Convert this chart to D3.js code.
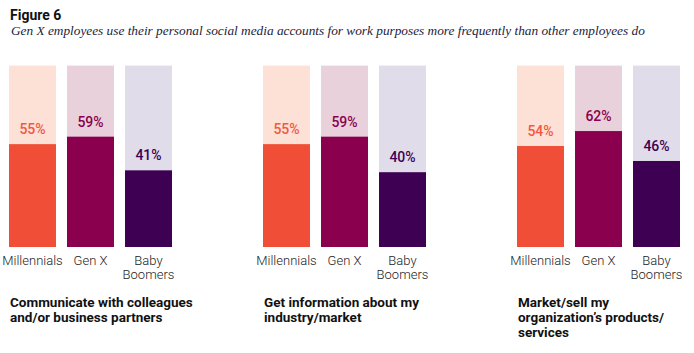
<!DOCTYPE html>
<html>
<head>
<meta charset="utf-8">
<script src="https://cdn.jsdelivr.net/npm/d3@7"></script>
<style>
  body { margin: 0; background: #fff; }
  svg { display: block; }
</style>
</head>
<body>
<svg id="chart" width="694" height="353"></svg>
<script>
// Data
const topics = [
  ['Communicate with colleagues', 'and/or business partners'],
  ['Get information about my', 'industry/market'],
  ['Market/sell my', 'organization\u2019s products/', 'services']
];
const generations = ['Millennials', 'Gen X', 'Baby Boomers'];
const genLabels = [['Millennials'], ['Gen X'], ['Baby', 'Boomers']];
const values = [
  [55, 59, 41],
  [55, 59, 40],
  [54, 62, 46]
];

const darkColors = ['#f04e37', '#8a004f', '#3e0052'];
const lightColors = ['#fde1d7', '#e8d1da', '#e1dcea'];
const labelColors = ['#f4583f', '#8a004f', '#3e0052'];

const svg = d3.select('#chart');

// Header
svg.append('text')
  .attr('x', 10)
  .attr('y', 20)
  .style('font-family', 'Roboto, sans-serif')
  .style('font-weight', 700)
  .style('font-size', '14px')
  .style('fill', '#111')
  .text('Figure 6');

svg.append('text')
  .attr('x', 11)
  .attr('y', 35)
  .style('font-family', '"Liberation Serif", serif')
  .style('font-style', 'italic')
  .style('font-size', '13.3px')
  .style('fill', '#1c1c3c')
  .text('Gen X employees use their personal social media accounts for work purposes more frequently than other employees do');

// Scales
const panelX = d3.scaleBand()
  .domain(d3.range(topics.length))
  .range([9, 9 + 254 * topics.length]);

const barX = d3.scaleBand()
  .domain(generations)
  .range([0, 163])
  .paddingInner(0.19);

const y = d3.scaleLinear()
  .domain([0, 100])
  .range([247, 60]);

const trackMax = 97; // light background column extent

const panels = svg.selectAll('g.panel')
  .data(topics)
  .join('g')
  .attr('class', 'panel')
  .attr('transform', (d, i) => `translate(${panelX(i)},0)`);

panels.each(function(topic, ti) {
  const g = d3.select(this);
  const rows = generations.map((gen, gi) => ({ gen, gi, v: values[ti][gi] }));

  // Background tracks
  g.selectAll('rect.track')
    .data(rows)
    .join('rect')
    .attr('class', 'track')
    .attr('x', d => barX(d.gen))
    .attr('width', barX.bandwidth())
    .attr('y', y(trackMax))
    .attr('height', y(0) - y(trackMax))
    .style('fill', d => lightColors[d.gi]);

  // Value bars
  g.selectAll('rect.bar')
    .data(rows)
    .join('rect')
    .attr('class', 'bar')
    .attr('x', d => barX(d.gen))
    .attr('width', barX.bandwidth())
    .attr('y', d => y(d.v))
    .attr('height', d => y(0) - y(d.v))
    .style('fill', d => darkColors[d.gi]);

  // Value labels
  g.selectAll('text.value')
    .data(rows)
    .join('text')
    .attr('class', 'value')
    .attr('x', d => barX(d.gen) + barX.bandwidth() / 2)
    .attr('y', d => y(d.v) - 10)
    .attr('text-anchor', 'middle')
    .style('font-family', 'Roboto, sans-serif')
    .style('font-weight', 500)
    .style('font-size', '14px')
    .style('fill', d => labelColors[d.gi])
    .text(d => d.v + '%');

  // Generation labels
  const catText = g.selectAll('text.cat')
    .data(rows)
    .join('text')
    .attr('class', 'cat')
    .attr('x', d => barX(d.gen) + barX.bandwidth() / 2)
    .attr('y', 265)
    .attr('text-anchor', 'middle')
    .style('font-family', 'Roboto, sans-serif')
    .style('font-weight', 300)
    .style('font-size', '13px')
    .style('fill', '#222');

  catText.selectAll('tspan')
    .data(d => genLabels[d.gi].map(t => ({ t, x: barX(d.gen) + barX.bandwidth() / 2 })))
    .join('tspan')
    .attr('x', d => d.x)
    .attr('dy', (d, i) => i === 0 ? 0 : 14)
    .text(d => d.t);

  // Topic title
  g.append('text')
    .attr('x', 1)
    .attr('y', 307)
    .style('font-family', 'Roboto, sans-serif')
    .style('font-weight', 700)
    .style('font-size', '13.5px')
    .style('fill', '#111')
    .selectAll('tspan')
    .data(topic)
    .join('tspan')
    .attr('x', 1)
    .attr('dy', (d, i) => i === 0 ? 0 : 15)
    .text(d => d);
});
</script>
</body>
</html>
